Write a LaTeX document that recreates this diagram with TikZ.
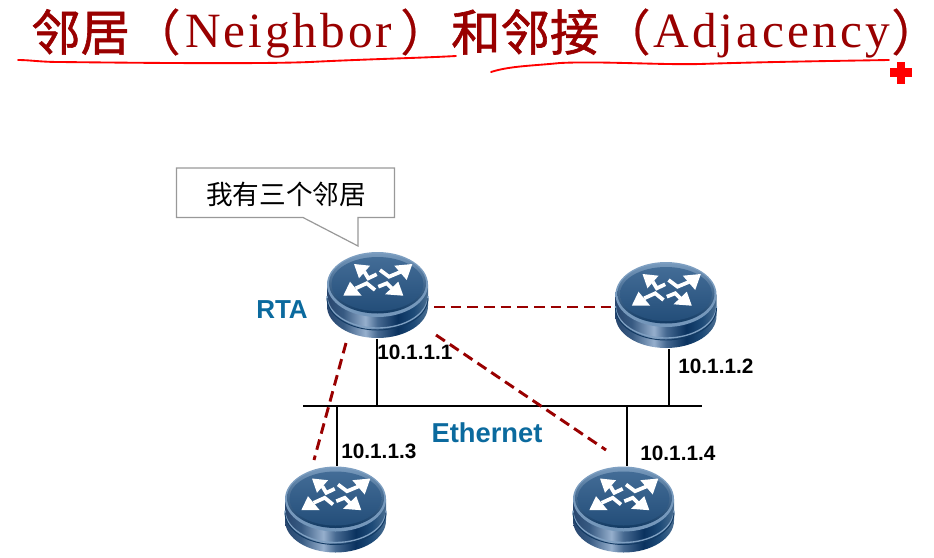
\documentclass[tikz,border=0pt]{standalone}
\usepackage{fontspec}
\setmainfont{Liberation Sans}
\newfontfamily\cjk{Noto Sans CJK SC}
\newfontfamily\cjkb[FakeBold=1.2]{Noto Sans CJK SC}
\newfontfamily\cjkm[FakeBold=0.5]{Noto Sans CJK SC}
\newfontfamily\latA[LetterSpace=6]{Liberation Serif}
\newfontfamily\latB[LetterSpace=6.5]{Liberation Serif}
\usetikzlibrary{arrows.meta}
\definecolor{tred}{HTML}{990000}
\definecolor{ublue}{HTML}{0B6A9E}
\definecolor{rnavy}{HTML}{123A63}
\definecolor{rmid}{HTML}{2F5B88}
\definecolor{rlight}{HTML}{7FA0C2}
\definecolor{sa}{RGB}{40,70,110}
\definecolor{sb}{RGB}{55,90,130}
\definecolor{sc}{RGB}{150,175,205}
\definecolor{sd}{RGB}{70,105,145}
\definecolor{se}{RGB}{10,50,95}
\definecolor{sf}{RGB}{30,75,120}
\definecolor{sg}{RGB}{75,110,145}
\pgfdeclarehorizontalshading{rside}{100bp}{%
  color(0bp)=(sa);
  color(25bp)=(sa);
  color(33bp)=(sb);
  color(44bp)=(sc);
  color(50bp)=(sd);
  color(60bp)=(se);
  color(68bp)=(sf);
  color(75bp)=(sg);
  color(100bp)=(sg)}
\tikzset{
  px/.style={x=0.75pt,y=-0.75pt},
  titlecjk/.style={anchor=west,inner sep=0,text=tred,font={\cjkb\fontsize{37}{37}\selectfont}},
  titleparen/.style={anchor=west,inner sep=0,text=tred,font={\cjkm\fontsize{37}{37}\selectfont}},
  neighbortext/.style={anchor=west,inner sep=0,text=tred,font={\latA\fontsize{37}{37}\selectfont}},
  adjtext/.style={anchor=west,inner sep=0,text=tred,font={\latB\fontsize{37}{37}\selectfont}},
  iplabel/.style={anchor=west,inner sep=0,font={\bfseries\fontsize{15.6}{16}\selectfont}},
  netlabel/.style={anchor=center,inner sep=0,text=ublue,font={\bfseries\fontsize{#1}{22}\selectfont}},
  wire/.style={black,line width=1.5pt},
  dashline/.style={tred,line width=2.2pt,dash pattern=on 8pt off 4.5pt},
  inkline/.style={red,line width=1.4pt,line cap=round,line join=round},
  routerbox/.style={minimum width=75.75pt,minimum height=65.25pt,inner sep=0},
  stem/.style={white,line width=2.8pt,line join=miter},
}
\newcommand{\routerpic}[3]{%
  \begin{scope}[shift={(#2,#3)}]
    \path[shading=rside]
      (-50.5,-10.5) -- (-50.5,11) arc[x radius=50.5,y radius=32,start angle=180,end angle=0] -- (50.5,-10.5) -- cycle;
    \draw[rlight,line width=1pt] (-50.5,1) arc[x radius=50.5,y radius=32,start angle=180,end angle=0];
    \draw[rnavy,line width=0.7pt] (-50.5,3) arc[x radius=50.5,y radius=32,start angle=180,end angle=0];
    \path[top color=rlight,bottom color=rlight!85!rmid] (0,-10.5) ellipse[x radius=50.5,y radius=32.5];
    \path[top color=rlight!90!rmid,bottom color=rnavy] (0,-11.5) ellipse[x radius=48.5,y radius=30];
    \path[top color=rmid!75!rlight,bottom color=rmid!60!rnavy] (0,-11) ellipse[x radius=46,y radius=27];
    \fill[white] (34.8,-31) -- (16.8,-29.3) -- (29.2,-15) -- cycle;
    \draw[stem] (2.5,-25) -- (11.5,-18.3) -- (23.5,-23.3);
    \fill[white] (-23.5,-31) -- (-7.5,-29.3) -- (-18.5,-16.7) -- cycle;
    \draw[stem] (-13.2,-23.3) -- (-9.2,-16.7) -- (-0.8,-20.7);
    \fill[white] (-34.2,0.7) -- (-15.8,0.7) -- (-27.5,-13.3) -- cycle;
    \draw[stem] (-21.8,-6.7) -- (-10.8,-11.7) -- (-2.5,-5);
    \fill[white] (25.8,0.7) -- (7.5,-0.7) -- (20.8,-13.3) -- cycle;
    \draw[stem] (14.2,-6.7) -- (9.2,-11.7) -- (0.8,-8.3);
  \end{scope}
  \node[routerbox] (#1) at (#2,#3) {};
}
\begin{document}
\begin{tikzpicture}[px]
\useasboundingbox (0,0) rectangle (934,557);
% title
\node[titlecjk] (t1) at (31,32) {邻居};
\node[titleparen] (t2) at (131,32) {（};
\node[neighbortext] (t3) at (185,36) {Neighbor};
\node[titleparen] (t4) at (400,32) {）};
\node[titlecjk] (t5) at (451,32) {和邻接};
\node[titleparen] (t6) at (601,32) {（};
\node[adjtext] (t7) at (653,36) {Adjacency};
\node[titleparen] (t8) at (891,32) {）};
% ink underlines
\draw[inkline] (18,60) .. controls (30,60) and (40,62) .. (60,62) .. controls (150,63) and (260,64) .. (310,62) .. controls (370,59) and (420,58) .. (456,56);
\draw[inkline] (491,72) .. controls (510,66) and (530,66) .. (560,63) .. controls (600,61) and (660,65) .. (700,64) .. controls (760,62) and (830,61) .. (889,60);
\fill[red] (897,62) rectangle (905,84);
\fill[red] (890,68) rectangle (912,77);
% callout
\draw[black!40,line width=0.9pt,fill=white] (176.5,168) -- (394.5,168) -- (394.5,217.5) -- (358,217.5) -- (358,246) -- (303,217.5) -- (176.5,217.5) -- cycle;
\node[inner sep=0,font={\cjk\fontsize{20}{20}\selectfont}] (say) at (286,194) {我有三个邻居};
% bus
\coordinate (busl) at (303,406);
\coordinate (busr) at (702,406);
\draw[wire] (busl) -- (busr);
% routers
\routerpic{rta}{377.5}{295}
\routerpic{rtb}{666}{305}
\routerpic{rtc}{335.5}{509.5}
\routerpic{rtd}{623.5}{509.5}
% drops
\coordinate (c1) at (377,406);
\coordinate (c2) at (669,406);
\coordinate (c3) at (337,406);
\coordinate (c4) at (627,406);
\draw[wire] (c1) -- (c1 |- rta.south);
\draw[wire] (c2) -- (c2 |- rtb.south);
\draw[wire] (c3) -- (c3 |- rtc.north);
\draw[wire] (c4) -- (c4 |- rtd.north);
% neighbour relations
\coordinate (d1a) at (434,307); \coordinate (d1b) at (612,307);
\coordinate (d2a) at (346,343); \coordinate (d2b) at (314,460);
\coordinate (d3a) at (436,335); \coordinate (d3b) at (606,450);
\draw[dashline] (d1a) -- (d1b);
\draw[dashline] (d2a) -- (d2b);
\draw[dashline] (d3a) -- (d3b);
% labels
\node[netlabel=19.5] (rtalabel) at (282,310) {RTA};
\node[netlabel=20.5] (eth) at (487,433) {Ethernet};
\node[iplabel] (ip1) at (377,352) {10.1.1.1};
\node[iplabel] (ip2) at (678,366) {10.1.1.2};
\node[iplabel] (ip3) at (341,451) {10.1.1.3};
\node[iplabel] (ip4) at (640,453) {10.1.1.4};
\end{tikzpicture}
\end{document}
